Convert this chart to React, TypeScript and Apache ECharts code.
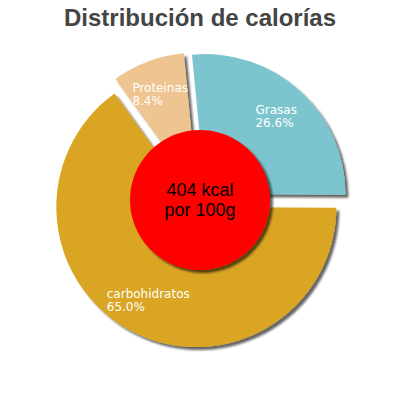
import React, { useEffect, useRef } from 'react';
import * as echarts from 'echarts';

const categories = ['Grasas', 'carbohidratos', 'Proteinas'];
const shares = [26.6, 65.0, 8.4];
const sliceColors = ['#7cc5ce', '#daa520', '#eec591'];
const energyKcal = 404;
const portionLabel = 'por 100g';

const shadow = {
  shadowBlur: 2,
  shadowOffsetX: 3,
  shadowOffsetY: 3,
  shadowColor: 'rgba(0, 0, 0, 0.6)',
};

function buildOption(): echarts.EChartsOption {
  const center = [200, 200];
  const startAngle = 95.5;

  return {
    animation: false,
    title: {
      text: 'Distribución de calorías',
      left: 'center',
      top: 0,
      textStyle: {
        fontFamily: 'Liberation Sans, Arial, sans-serif',
        fontSize: 24,
        fontWeight: 'bold',
        color: '#444444',
      },
    },
    series: [
      {
        type: 'pie',
        center,
        radius: [0, 140],
        startAngle,
        clockwise: true,
        silent: true,
        selectedMode: 'multiple',
        selectedOffset: 8,
        label: { show: false },
        labelLine: { show: false },
        emphasis: { disabled: true },
        data: categories.map((name, i) => ({
          name,
          value: shares[i],
          selected: true,
          itemStyle: { color: sliceColors[i], ...shadow },
        })),
      },
      {
        // transparent copy that only carries the labels further out
        type: 'pie',
        center,
        radius: [0, 204],
        startAngle,
        clockwise: true,
        silent: true,
        selectedMode: 'multiple',
        selectedOffset: 8,
        labelLine: { show: false },
        emphasis: { disabled: true },
        label: {
          show: true,
          position: 'inside',
          formatter: (p: any) => `{t|${p.name}}\n{t|${Number(p.value).toFixed(1)}%}`,
          rich: {
            t: {
              align: 'left',
              color: '#ffffff',
              fontFamily: 'DejaVu Sans, sans-serif',
              fontSize: 12,
              lineHeight: 13,
            },
          },
        },
        data: categories.map((name, i) => ({
          name,
          value: shares[i],
          selected: true,
          itemStyle: { color: 'rgba(0,0,0,0)' },
        })),
      },
      {
        type: 'pie',
        center,
        radius: [0, 70],
        z: 3,
        silent: true,
        labelLine: { show: false },
        emphasis: { disabled: true },
        label: {
          show: true,
          position: 'center',
          formatter: () => `${energyKcal} kcal\n${portionLabel}`,
          color: '#000000',
          fontFamily: 'Liberation Sans, Arial, sans-serif',
          fontSize: 18,
          lineHeight: 20,
        },
        data: [
          {
            name: 'energia',
            value: energyKcal,
            itemStyle: { color: '#ff0000', ...shadow },
          },
        ],
      },
    ],
  };
}

export default function App() {
  const containerRef = useRef<HTMLDivElement | null>(null);

  useEffect(() => {
    if (!containerRef.current) {
      return undefined;
    }
    const chart = echarts.init(containerRef.current, undefined, { renderer: 'svg' });
    chart.setOption(buildOption());
    return () => {
      chart.dispose();
    };
  }, []);

  return (
    <div
      ref={containerRef}
      style={{ position: 'absolute', left: 0, top: 0, width: 400, height: 400, background: '#ffffff' }}
    />
  );
}
